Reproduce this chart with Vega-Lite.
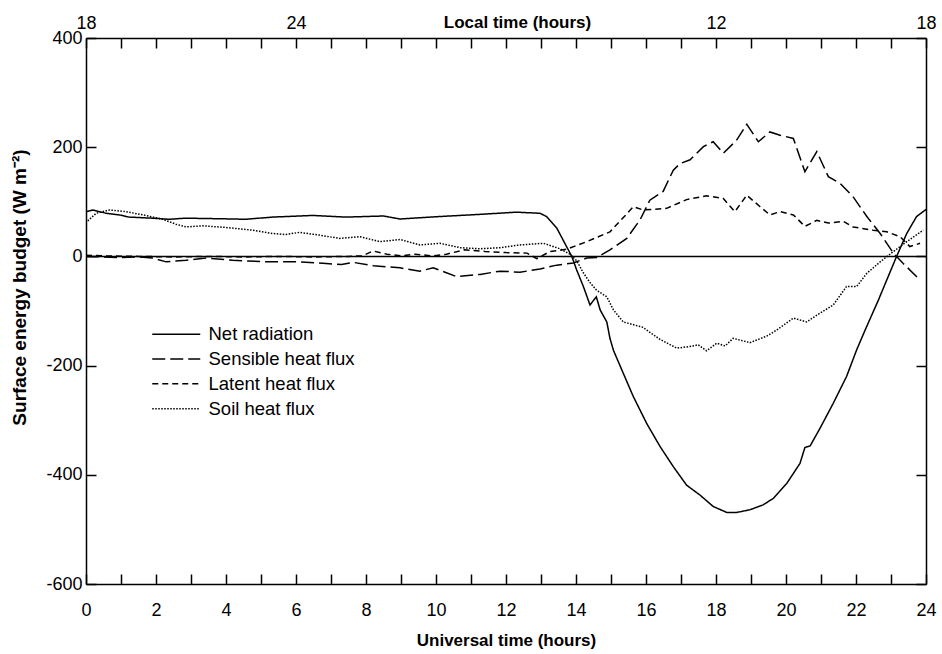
{
  "$schema": "https://vega.github.io/schema/vega-lite/v6.json",
  "width": 840,
  "height": 546,
  "autosize": {"type": "none"},
  "padding": {"left": 86, "top": 38, "right": 16, "bottom": 70},
  "background": "white",
  "config": {
    "view": {"stroke": null},
    "font": "Liberation Sans",
    "axis": {
      "labelFont": "Liberation Sans", "titleFont": "Liberation Sans",
      "domainColor": "black", "tickColor": "black", "labelColor": "black", "titleColor": "black",
      "domainWidth": 1.5, "tickWidth": 1.5, "grid": false,
      "labelFlush": false, "labelOverlap": false, "labelBound": false,
      "labelFontSize": 18, "titleFontSize": 17, "titleFontWeight": "bold"
    }
  },
  "datasets": {
    "flux": [
      {"s":"Net radiation","t":0,"v":82},{"s":"Net radiation","t":0.2,"v":85},{"s":"Net radiation","t":0.57,"v":79},{"s":"Net radiation","t":0.95,"v":76},{"s":"Net radiation","t":1.23,"v":72},{"s":"Net radiation","t":1.9,"v":70},{"s":"Net radiation","t":2.37,"v":68},{"s":"Net radiation","t":2.85,"v":70},{"s":"Net radiation","t":3.8,"v":69},{"s":"Net radiation","t":4.57,"v":68},{"s":"Net radiation","t":5.33,"v":72},{"s":"Net radiation","t":6.48,"v":75},{"s":"Net radiation","t":7.43,"v":72},{"s":"Net radiation","t":8.5,"v":74},{"s":"Net radiation","t":8.97,"v":68.5},{"s":"Net radiation","t":10.1,"v":73},{"s":"Net radiation","t":11.26,"v":77},{"s":"Net radiation","t":12.3,"v":81},{"s":"Net radiation","t":12.97,"v":79},{"s":"Net radiation","t":13.16,"v":73},{"s":"Net radiation","t":13.45,"v":52},{"s":"Net radiation","t":13.73,"v":18},{"s":"Net radiation","t":13.88,"v":0},{"s":"Net radiation","t":14.02,"v":-25},{"s":"Net radiation","t":14.21,"v":-55},{"s":"Net radiation","t":14.4,"v":-89},{"s":"Net radiation","t":14.58,"v":-74},{"s":"Net radiation","t":14.69,"v":-98},{"s":"Net radiation","t":14.88,"v":-120},{"s":"Net radiation","t":14.97,"v":-150},{"s":"Net radiation","t":15.07,"v":-172},{"s":"Net radiation","t":15.35,"v":-214},{"s":"Net radiation","t":15.64,"v":-257},{"s":"Net radiation","t":16.02,"v":-306},{"s":"Net radiation","t":16.4,"v":-348},{"s":"Net radiation","t":16.78,"v":-385},{"s":"Net radiation","t":17.16,"v":-419},{"s":"Net radiation","t":17.54,"v":-437},{"s":"Net radiation","t":17.92,"v":-458},{"s":"Net radiation","t":18.31,"v":-469},{"s":"Net radiation","t":18.59,"v":-469},{"s":"Net radiation","t":18.97,"v":-464},{"s":"Net radiation","t":19.35,"v":-455},{"s":"Net radiation","t":19.64,"v":-443},{"s":"Net radiation","t":20.02,"v":-416},{"s":"Net radiation","t":20.4,"v":-379},{"s":"Net radiation","t":20.54,"v":-350},{"s":"Net radiation","t":20.69,"v":-347},{"s":"Net radiation","t":20.97,"v":-315},{"s":"Net radiation","t":21.35,"v":-269},{"s":"Net radiation","t":21.73,"v":-220},{"s":"Net radiation","t":22.02,"v":-171},{"s":"Net radiation","t":22.26,"v":-135},{"s":"Net radiation","t":22.64,"v":-80},{"s":"Net radiation","t":22.88,"v":-43},{"s":"Net radiation","t":23.16,"v":0},{"s":"Net radiation","t":23.45,"v":42},{"s":"Net radiation","t":23.73,"v":73},{"s":"Net radiation","t":24,"v":86},

      {"s":"Sensible heat flux","t":0,"v":0},{"s":"Sensible heat flux","t":0.5,"v":-1},{"s":"Sensible heat flux","t":0.94,"v":-2},{"s":"Sensible heat flux","t":1.51,"v":-1},{"s":"Sensible heat flux","t":1.9,"v":-3},{"s":"Sensible heat flux","t":2.29,"v":-10},{"s":"Sensible heat flux","t":2.86,"v":-7},{"s":"Sensible heat flux","t":3.43,"v":-3},{"s":"Sensible heat flux","t":4.19,"v":-7},{"s":"Sensible heat flux","t":5.14,"v":-10},{"s":"Sensible heat flux","t":6.09,"v":-10},{"s":"Sensible heat flux","t":6.86,"v":-13},{"s":"Sensible heat flux","t":7.3,"v":-15},{"s":"Sensible heat flux","t":7.64,"v":-11},{"s":"Sensible heat flux","t":8.21,"v":-17},{"s":"Sensible heat flux","t":8.97,"v":-21},{"s":"Sensible heat flux","t":9.54,"v":-27},{"s":"Sensible heat flux","t":9.92,"v":-21},{"s":"Sensible heat flux","t":10.59,"v":-37},{"s":"Sensible heat flux","t":11.26,"v":-33},{"s":"Sensible heat flux","t":11.83,"v":-27},{"s":"Sensible heat flux","t":12.4,"v":-29},{"s":"Sensible heat flux","t":12.97,"v":-23},{"s":"Sensible heat flux","t":13.45,"v":-16},{"s":"Sensible heat flux","t":13.92,"v":-12},{"s":"Sensible heat flux","t":14.31,"v":-3},{"s":"Sensible heat flux","t":14.59,"v":-2},{"s":"Sensible heat flux","t":14.97,"v":12},{"s":"Sensible heat flux","t":15.45,"v":33},{"s":"Sensible heat flux","t":15.83,"v":67},{"s":"Sensible heat flux","t":16.11,"v":103},{"s":"Sensible heat flux","t":16.49,"v":119},{"s":"Sensible heat flux","t":16.78,"v":158},{"s":"Sensible heat flux","t":16.97,"v":170},{"s":"Sensible heat flux","t":17.26,"v":177},{"s":"Sensible heat flux","t":17.64,"v":201},{"s":"Sensible heat flux","t":17.92,"v":210},{"s":"Sensible heat flux","t":18.21,"v":189},{"s":"Sensible heat flux","t":18.59,"v":213},{"s":"Sensible heat flux","t":18.88,"v":242},{"s":"Sensible heat flux","t":19.21,"v":210},{"s":"Sensible heat flux","t":19.54,"v":228},{"s":"Sensible heat flux","t":19.83,"v":222},{"s":"Sensible heat flux","t":20.21,"v":216},{"s":"Sensible heat flux","t":20.54,"v":155},{"s":"Sensible heat flux","t":20.88,"v":192},{"s":"Sensible heat flux","t":21.21,"v":146},{"s":"Sensible heat flux","t":21.54,"v":134},{"s":"Sensible heat flux","t":21.92,"v":109},{"s":"Sensible heat flux","t":22.31,"v":73},{"s":"Sensible heat flux","t":22.69,"v":42},{"s":"Sensible heat flux","t":23.07,"v":6},{"s":"Sensible heat flux","t":23.35,"v":-13},{"s":"Sensible heat flux","t":23.78,"v":-40},

      {"s":"Latent heat flux","t":0,"v":2},{"s":"Latent heat flux","t":0.5,"v":1},{"s":"Latent heat flux","t":1.5,"v":0},{"s":"Latent heat flux","t":2.5,"v":-1},{"s":"Latent heat flux","t":3.5,"v":0},{"s":"Latent heat flux","t":4.5,"v":-1},{"s":"Latent heat flux","t":5.5,"v":0},{"s":"Latent heat flux","t":6.5,"v":-1},{"s":"Latent heat flux","t":7.5,"v":0},{"s":"Latent heat flux","t":7.9,"v":1},{"s":"Latent heat flux","t":8.2,"v":10},{"s":"Latent heat flux","t":8.6,"v":4},{"s":"Latent heat flux","t":9.0,"v":1},{"s":"Latent heat flux","t":9.4,"v":4},{"s":"Latent heat flux","t":9.9,"v":1},{"s":"Latent heat flux","t":10.3,"v":4},{"s":"Latent heat flux","t":10.8,"v":12},{"s":"Latent heat flux","t":11.4,"v":9},{"s":"Latent heat flux","t":12.0,"v":7},{"s":"Latent heat flux","t":12.6,"v":6},{"s":"Latent heat flux","t":12.88,"v":-4},{"s":"Latent heat flux","t":13.26,"v":9},{"s":"Latent heat flux","t":13.73,"v":13},{"s":"Latent heat flux","t":14.31,"v":27},{"s":"Latent heat flux","t":14.97,"v":45},{"s":"Latent heat flux","t":15.64,"v":91},{"s":"Latent heat flux","t":15.92,"v":85},{"s":"Latent heat flux","t":16.59,"v":88},{"s":"Latent heat flux","t":17.16,"v":104},{"s":"Latent heat flux","t":17.73,"v":111},{"s":"Latent heat flux","t":18.21,"v":106},{"s":"Latent heat flux","t":18.54,"v":82},{"s":"Latent heat flux","t":18.88,"v":112},{"s":"Latent heat flux","t":19.26,"v":91},{"s":"Latent heat flux","t":19.54,"v":76},{"s":"Latent heat flux","t":19.83,"v":82},{"s":"Latent heat flux","t":20.21,"v":76},{"s":"Latent heat flux","t":20.54,"v":55},{"s":"Latent heat flux","t":20.88,"v":66},{"s":"Latent heat flux","t":21.21,"v":61},{"s":"Latent heat flux","t":21.64,"v":64},{"s":"Latent heat flux","t":21.92,"v":54},{"s":"Latent heat flux","t":22.49,"v":48},{"s":"Latent heat flux","t":22.88,"v":45},{"s":"Latent heat flux","t":23.26,"v":36},{"s":"Latent heat flux","t":23.54,"v":18},{"s":"Latent heat flux","t":23.83,"v":24},

      {"s":"Soil heat flux","t":0.05,"v":65},{"s":"Soil heat flux","t":0.29,"v":79},{"s":"Soil heat flux","t":0.67,"v":85},{"s":"Soil heat flux","t":1.14,"v":82},{"s":"Soil heat flux","t":1.71,"v":75},{"s":"Soil heat flux","t":2.19,"v":68},{"s":"Soil heat flux","t":2.57,"v":59},{"s":"Soil heat flux","t":2.86,"v":54},{"s":"Soil heat flux","t":3.33,"v":56},{"s":"Soil heat flux","t":4.0,"v":53},{"s":"Soil heat flux","t":4.76,"v":48},{"s":"Soil heat flux","t":5.33,"v":42},{"s":"Soil heat flux","t":5.71,"v":40},{"s":"Soil heat flux","t":6.09,"v":44},{"s":"Soil heat flux","t":6.67,"v":39},{"s":"Soil heat flux","t":7.24,"v":33},{"s":"Soil heat flux","t":7.83,"v":36},{"s":"Soil heat flux","t":8.4,"v":27},{"s":"Soil heat flux","t":8.97,"v":31},{"s":"Soil heat flux","t":9.54,"v":21},{"s":"Soil heat flux","t":10.11,"v":24},{"s":"Soil heat flux","t":10.69,"v":16},{"s":"Soil heat flux","t":11.26,"v":14},{"s":"Soil heat flux","t":11.83,"v":16},{"s":"Soil heat flux","t":12.4,"v":21},{"s":"Soil heat flux","t":13.07,"v":24},{"s":"Soil heat flux","t":13.54,"v":14},{"s":"Soil heat flux","t":13.83,"v":4},{"s":"Soil heat flux","t":14.02,"v":-8},{"s":"Soil heat flux","t":14.21,"v":-30},{"s":"Soil heat flux","t":14.4,"v":-48},{"s":"Soil heat flux","t":14.59,"v":-62},{"s":"Soil heat flux","t":14.88,"v":-74},{"s":"Soil heat flux","t":15.07,"v":-98},{"s":"Soil heat flux","t":15.35,"v":-120},{"s":"Soil heat flux","t":15.92,"v":-130},{"s":"Soil heat flux","t":16.02,"v":-135},{"s":"Soil heat flux","t":16.4,"v":-152},{"s":"Soil heat flux","t":16.88,"v":-168},{"s":"Soil heat flux","t":17.26,"v":-165},{"s":"Soil heat flux","t":17.49,"v":-162},{"s":"Soil heat flux","t":17.73,"v":-173},{"s":"Soil heat flux","t":18.02,"v":-159},{"s":"Soil heat flux","t":18.26,"v":-164},{"s":"Soil heat flux","t":18.49,"v":-150},{"s":"Soil heat flux","t":18.97,"v":-158},{"s":"Soil heat flux","t":19.45,"v":-146},{"s":"Soil heat flux","t":19.73,"v":-135},{"s":"Soil heat flux","t":20.21,"v":-113},{"s":"Soil heat flux","t":20.59,"v":-120},{"s":"Soil heat flux","t":20.97,"v":-104},{"s":"Soil heat flux","t":21.35,"v":-89},{"s":"Soil heat flux","t":21.73,"v":-55},{"s":"Soil heat flux","t":22.02,"v":-55},{"s":"Soil heat flux","t":22.31,"v":-31},{"s":"Soil heat flux","t":22.69,"v":-10},{"s":"Soil heat flux","t":23.07,"v":9},{"s":"Soil heat flux","t":23.45,"v":27},{"s":"Soil heat flux","t":23.92,"v":48}
    ],
    "zeroline": [{"t0": 0, "t1": 24, "v": 0}]
  },
  "layer": [
    {
      "data": {"name": "flux"},
      "mark": {"type": "line", "color": "black", "strokeWidth": 1.5},
      "encoding": {
        "x": {
          "field": "t", "type": "quantitative",
          "scale": {"domain": [0, 24], "nice": false, "zero": false},
          "axis": {
            "orient": "bottom",
            "values": [0,1,2,3,4,5,6,7,8,9,10,11,12,13,14,15,16,17,18,19,20,21,22,23,24],
            "labelExpr": "datum.value % 2 === 0 ? datum.label : ''",
            "tickSize": -10, "labelPadding": 27,
            "title": "Universal time (hours)",
            "titleY": 56, "titleBaseline": "middle",
            "encode": {"ticks": {"update": {"y2": {"signal": "datum.value % 2 === 0 ? -10 : -7.5"}}}}
          }
        },
        "y": {
          "field": "v", "type": "quantitative",
          "scale": {"domain": [-600, 400], "nice": false},
          "axis": {
            "orient": "left",
            "values": [-600, -400, -200, 0, 200, 400],
            "labelExpr": "'' + datum.value",
            "tickSize": -10, "labelPadding": 14,
            "title": "Surface energy budget (W m⁻²)",
            "titleFontSize": 19,
            "titleX": -67, "titleY": 249, "titleAngle": -90, "titleAlign": "center", "titleBaseline": "middle",
            "encode": {"labels": {"update": {"dy": {"signal": "datum.value === 400 ? 4 : 0"}}}}
          }
        },
        "strokeDash": {
          "field": "s", "type": "nominal",
          "scale": {
            "domain": ["Net radiation", "Sensible heat flux", "Latent heat flux", "Soil heat flux"],
            "range": [[1, 0], [13, 5], [6, 4], [1.5, 1.5]]
          },
          "legend": {
            "orient": "none", "legendX": 81, "legendY": 287,
            "title": null, "padding": 0,
            "symbolType": "M-4,0H4", "symbolSize": 144,
            "symbolStrokeWidth": 1.5, "symbolStrokeColor": "black",
            "labelFontSize": 18.5, "labelFont": "Liberation Sans", "labelColor": "black",
            "labelOffset": 23, "rowPadding": 5.8
          }
        }
      }
    },
    {
      "data": {"name": "zeroline"},
      "mark": {"type": "rule", "color": "black", "strokeWidth": 1.5},
      "encoding": {
        "x": {
          "field": "t0", "type": "quantitative",
          "axis": {
            "orient": "top",
            "values": [0,1,2,3,4,5,6,7,8,9,10,11,12,13,14,15,16,17,18,19,20,21,22,23,24],
            "labelExpr": "datum.value === 0 ? '18' : datum.value === 6 ? '24' : datum.value === 18 ? '12' : datum.value === 24 ? '18' : ''",
            "tickSize": -10, "labelPadding": 16,
            "title": "Local time (hours)",
            "titleX": 431, "titleY": -6.5, "titleAlign": "center", "titleBaseline": "bottom",
            "encode": {"ticks": {"update": {"y2": {"signal": "datum.value % 2 === 0 ? 11 : 8.5"}}}}
          }
        },
        "x2": {"field": "t1"},
        "y": {
          "field": "v", "type": "quantitative",
          "axis": {
            "orient": "right",
            "values": [-600, -400, -200, 0, 200, 400],
            "tickSize": -10, "labels": false, "title": null
          }
        }
      }
    }
  ],
  "resolve": {"axis": {"x": "independent", "y": "independent"}}
}
